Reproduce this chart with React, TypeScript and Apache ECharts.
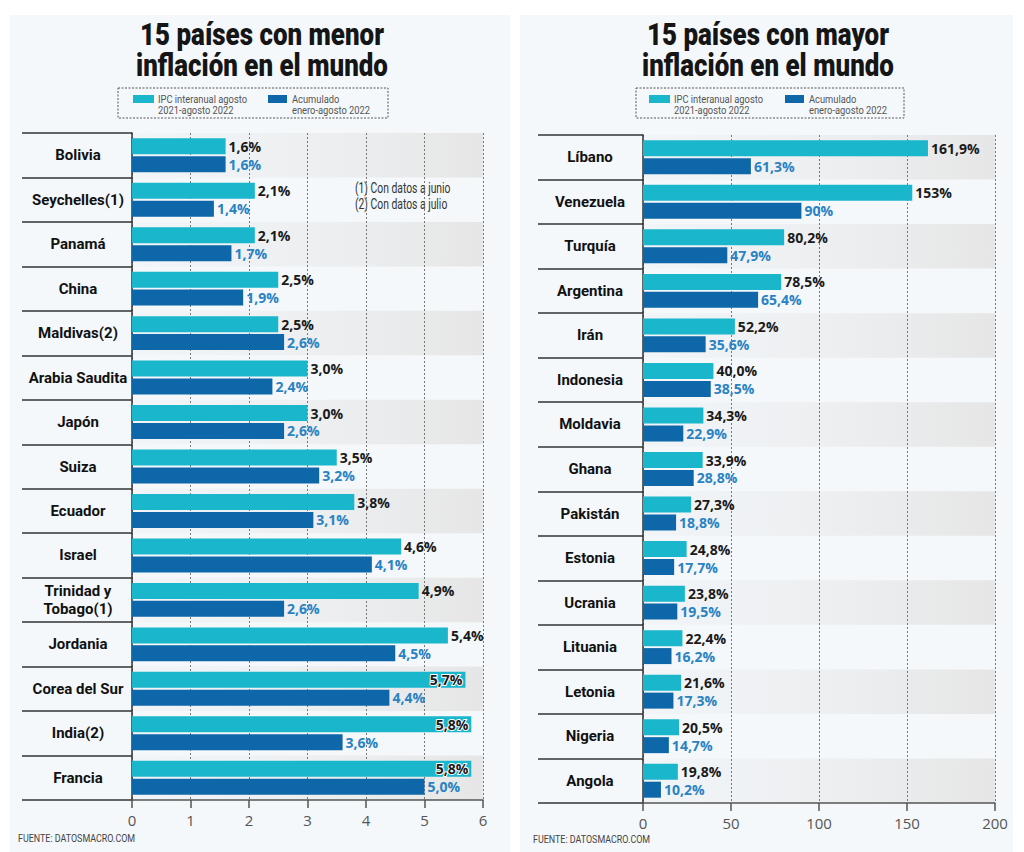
import React, { useEffect, useRef } from "react";
import * as echarts from "echarts";

// ---------- DATA ----------
const legendNames = ["IPC interanual agosto\n2021-agosto 2022", "Acumulado\nenero-agosto 2022"];

const menorPaises = [
  "Bolivia", "Seychelles(1)", "Panamá", "China", "Maldivas(2)", "Arabia Saudita", "Japón", "Suiza",
  "Ecuador", "Israel", "Trinidad y\nTobago(1)", "Jordania", "Corea del Sur", "India(2)", "Francia",
];
const menorIpc = [1.6, 2.1, 2.1, 2.5, 2.5, 3.0, 3.0, 3.5, 3.8, 4.6, 4.9, 5.4, 5.7, 5.8, 5.8];
const menorAcum = [1.6, 1.4, 1.7, 1.9, 2.6, 2.4, 2.6, 3.2, 3.1, 4.1, 2.6, 4.5, 4.4, 3.6, 5.0];
const menorIpcLabels = ["1,6%", "2,1%", "2,1%", "2,5%", "2,5%", "3,0%", "3,0%", "3,5%", "3,8%", "4,6%", "4,9%", "5,4%", "5,7%", "5,8%", "5,8%"];
const menorAcumLabels = ["1,6%", "1,4%", "1,7%", "1,9%", "2,6%", "2,4%", "2,6%", "3,2%", "3,1%", "4,1%", "2,6%", "4,5%", "4,4%", "3,6%", "5,0%"];
const menorTicks = { min: 0, max: 6, interval: 1 };

const mayorPaises = [
  "Líbano", "Venezuela", "Turquía", "Argentina", "Irán", "Indonesia", "Moldavia", "Ghana",
  "Pakistán", "Estonia", "Ucrania", "Lituania", "Letonia", "Nigeria", "Angola",
];
const mayorIpc = [161.9, 153, 80.2, 78.5, 52.2, 40.0, 34.3, 33.9, 27.3, 24.8, 23.8, 22.4, 21.6, 20.5, 19.8];
const mayorAcum = [61.3, 90, 47.9, 65.4, 35.6, 38.5, 22.9, 28.8, 18.8, 17.7, 19.5, 16.2, 17.3, 14.7, 10.2];
const mayorIpcLabels = ["161,9%", "153%", "80,2%", "78,5%", "52,2%", "40,0%", "34,3%", "33,9%", "27,3%", "24,8%", "23,8%", "22,4%", "21,6%", "20,5%", "19,8%"];
const mayorAcumLabels = ["61,3%", "90%", "47,9%", "65,4%", "35,6%", "38,5%", "22,9%", "28,8%", "18,8%", "17,7%", "19,5%", "16,2%", "17,3%", "14,7%", "10,2%"];
const mayorTicks = { min: 0, max: 200, interval: 50 };

const titles = [
  ["15 países con menor", "inflación en el mundo"],
  ["15 países con mayor", "inflación en el mundo"],
];
const notes = ["(1) Con datos a junio", "(2) Con datos a julio"];
const fuente = "FUENTE: DATOSMACRO.COM";

// ---------- STYLE ----------
const CYAN = "#1ab6cc";
const BLUE = "#0e67a8";
const BLUE_TXT = "#2a82c3";
const BG = "#f4f8fb";

const bandGradient = {
  type: "linear", x: 0, y: 0, x2: 1, y2: 0,
  colorStops: [
    { offset: 0, color: "rgba(236,238,240,0.3)" },
    { offset: 1, color: "#e6e6e6" },
  ],
};

function yAxisFor(gridIndex: number, cats: string[], tickLen: number, margin: number) {
  return {
    type: "category", gridIndex, data: cats, inverse: true,
    axisLine: { show: true, lineStyle: { color: "#333", width: 1.5 } },
    axisTick: { show: true, length: tickLen, interval: 0, lineStyle: { color: "#333", width: 1.5 } },
    axisLabel: {
      interval: 0, margin, align: "center",
      fontFamily: "Roboto", fontWeight: "bold", fontSize: 15, color: "#111", lineHeight: 18,
    },
    splitArea: { show: true, areaStyle: { color: [bandGradient, "rgba(255,255,255,0)"] } },
    splitLine: { show: false },
  };
}

function xAxisFor(gridIndex: number, t: { min: number; max: number; interval: number }) {
  return {
    type: "value", gridIndex, min: t.min, max: t.max, interval: t.interval,
    axisLine: { show: true, lineStyle: { color: "#555", width: 1.5 } },
    axisTick: { show: true, length: 8, lineStyle: { color: "#555", width: 1.5 } },
    axisLabel: { margin: 12, fontFamily: "Open Sans", fontSize: 15, color: "#555" },
    splitLine: { show: true, lineStyle: { color: "#777", type: [2, 2], width: 1 } },
  };
}

const valueLabelFont = { fontFamily: "Open Sans", fontWeight: "bold", fontSize: 14, lineHeight: 16 };

function barSeries(
  name: string, idx: number, values: number[], labels: string[], color: string, txt: string, max: number
) {
  return {
    type: "bar", name, xAxisIndex: idx, yAxisIndex: idx,
    barWidth: 16, barGap: "12%",
    itemStyle: { color },
    data: values.map((v) =>
      v / max > 0.93
        ? { value: v, label: { position: "insideRight", distance: 3, textBorderColor: "#fff", textBorderWidth: 2 } }
        : v
    ),
    label: {
      show: true, position: "right", distance: 3, color: txt, ...valueLabelFont,
      formatter: (p: any) => labels[p.dataIndex],
    },
  };
}

function legendGraphic(boxX: number, boxW: number, x1: number, x2: number) {
  const textStyle = { fontFamily: "Roboto", fontSize: 11, fill: "#555", lineHeight: 11.5, verticalAlign: "top" };
  return [
    { type: "rect", shape: { x: boxX, y: 88, width: boxW, height: 30 }, style: { fill: "none", stroke: "#555", lineWidth: 1, lineDash: [2, 1.5] } },
    { type: "rect", shape: { x: x1, y: 95, width: 21, height: 8 }, style: { fill: CYAN } },
    { type: "text", x: x1 + 25, y: 93, scaleX: 0.85, style: { ...textStyle, text: legendNames[0] } },
    { type: "rect", shape: { x: x2, y: 95, width: 19, height: 8 }, style: { fill: BLUE } },
    { type: "text", x: x2 + 24, y: 93, scaleX: 0.85, style: { ...textStyle, text: legendNames[1] } },
  ];
}

function titleGraphic(cx: number, lines: string[]) {
  const st = { fontFamily: "Roboto", fontWeight: 900, fontSize: 32, fill: "#151515", align: "center", verticalAlign: "middle" };
  return [
    { type: "text", x: cx, y: 34, scaleX: 0.81, style: { ...st, text: lines[0] } },
    { type: "text", x: cx, y: 65, scaleX: 0.81, style: { ...st, text: lines[1] } },
  ];
}

export default function App() {
  const ref = useRef<HTMLDivElement>(null);
  useEffect(() => {
    if (!ref.current) return;
    const chart = echarts.init(ref.current, undefined, { renderer: "svg" });
    const srcStyle = { fontFamily: "Roboto", fontSize: 10.5, fill: "#444", verticalAlign: "middle" };
    const noteStyle = { fontFamily: "Roboto", fontSize: 14, fill: "#333", verticalAlign: "middle" };
    chart.setOption({
      animation: false,
      backgroundColor: BG,
      grid: [
        { left: 132, right: 1024 - 483, top: 133, bottom: 852 - 800, containLabel: false },
        { left: 643, right: 1024 - 995, top: 135, bottom: 852 - 803, containLabel: false },
      ],
      xAxis: [xAxisFor(0, menorTicks), xAxisFor(1, mayorTicks)],
      yAxis: [yAxisFor(0, menorPaises, 110, 54), yAxisFor(1, mayorPaises, 105, 53)],
      series: [
        barSeries(legendNames[0], 0, menorIpc, menorIpcLabels, CYAN, "#1a1a1a", menorTicks.max),
        barSeries(legendNames[1], 0, menorAcum, menorAcumLabels, BLUE, BLUE_TXT, menorTicks.max),
        barSeries(legendNames[0], 1, mayorIpc, mayorIpcLabels, CYAN, "#1a1a1a", mayorTicks.max),
        barSeries(legendNames[1], 1, mayorAcum, mayorAcumLabels, BLUE, BLUE_TXT, mayorTicks.max),
      ],
      graphic: [
        // white page margins around the two panels
        { type: "rect", shape: { x: 0, y: 0, width: 1024, height: 15 }, style: { fill: "#fff" } },
        { type: "rect", shape: { x: 0, y: 0, width: 10, height: 852 }, style: { fill: "#fff" } },
        { type: "rect", shape: { x: 510, y: 0, width: 10, height: 852 }, style: { fill: "#fff" } },
        { type: "rect", shape: { x: 1013, y: 0, width: 11, height: 852 }, style: { fill: "#fff" } },
        ...titleGraphic(262, titles[0]),
        ...titleGraphic(768, titles[1]),
        ...legendGraphic(118, 270, 133, 268),
        ...legendGraphic(636, 268, 649, 785),
        { type: "text", x: 355, y: 188, scaleX: 0.74, style: { ...noteStyle, text: notes[0] } },
        { type: "text", x: 355, y: 204, scaleX: 0.74, style: { ...noteStyle, text: notes[1] } },
        { type: "text", x: 18, y: 838, scaleX: 0.85, style: { ...srcStyle, text: fuente } },
        { type: "text", x: 533, y: 839, scaleX: 0.85, style: { ...srcStyle, text: fuente } },
      ],
    });
    return () => chart.dispose();
  }, []);
  return <div ref={ref} style={{ position: "absolute", left: 0, top: 0, width: 1024, height: 852 }} />;
}
